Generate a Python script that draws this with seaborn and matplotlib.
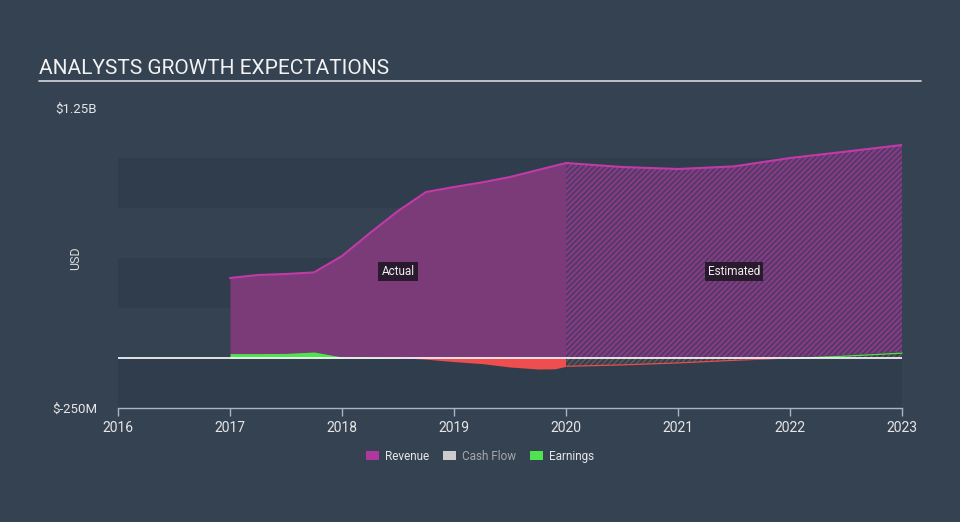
import matplotlib
matplotlib.use("Agg")
import matplotlib.pyplot as plt
from matplotlib.patches import Patch
import seaborn as sns
import numpy as np
import pandas as pd

# ---- data (USD billions) ----
rev_years_act = [2017.0, 2017.25, 2017.5, 2017.75, 2018.0, 2018.25, 2018.5, 2018.75, 2019.0, 2019.25, 2019.5, 2019.75, 2020.0]
rev_vals_act = [0.40, 0.415, 0.42, 0.428, 0.51, 0.625, 0.735, 0.83, 0.855, 0.878, 0.905, 0.94, 0.975]
rev_years_est = [2020.0, 2020.5, 2021.0, 2021.5, 2022.0, 2022.5, 2023.0]
rev_vals_est = [0.975, 0.955, 0.945, 0.958, 1.0, 1.032, 1.065]

earn_years = [2017.0, 2017.25, 2017.5, 2017.75, 2018.0, 2018.25, 2018.5, 2018.75, 2019.0, 2019.25, 2019.5, 2019.75, 2019.9, 2020.0,
              2020.5, 2021.0, 2021.5, 2022.0, 2022.5, 2023.0]
earn_vals = [0.022, 0.022, 0.023, 0.03, 0.005, 0.003, 0.002, -0.006, -0.018, -0.028, -0.045, -0.055, -0.054, -0.042,
             -0.035, -0.025, -0.012, 0.003, 0.015, 0.03]

x_ticks = [2016, 2017, 2018, 2019, 2020, 2021, 2022, 2023]
y_tick_vals = [-0.25, 1.25]
y_tick_labels = ["$-250M", "$1.25B"]
legend_labels = ["Revenue", "Cash Flow", "Earnings"]

BG = "#344252"
BAND = "#2f3d4d"
REV_FILL = "#7b3a78"
REV_LINE = "#c23aa8"
GREEN = "#4fe34f"
RED = "#ee4e4e"

sns.set_theme(style="dark")
plt.rcParams["font.family"] = ["Roboto", "DejaVu Sans"]

fig = plt.figure(figsize=(9.6, 5.22), dpi=100, facecolor=BG)
ax = fig.add_axes([118/960, 1-408/522, (902-118)/960, 300/522])
ax.set_facecolor(BG)
ax.set_xlim(2016, 2023)
ax.set_ylim(-0.25, 1.25)

# background bands
for lo, hi in [(-0.25, 0.0), (0.25, 0.5), (0.75, 1.0)]:
    ax.axhspan(lo, hi, color=BAND, lw=0, zorder=0)

df_act = pd.DataFrame({"year": rev_years_act, "rev": rev_vals_act})
df_est = pd.DataFrame({"year": rev_years_est, "rev": rev_vals_est})

# revenue actual
ax.fill_between(df_act.year, 0, df_act.rev, color=REV_FILL, lw=0, zorder=2)
sns.lineplot(data=df_act, x="year", y="rev", ax=ax, color=REV_LINE, lw=1.5, zorder=3)
# revenue estimated (hatched)
plt.rcParams["hatch.linewidth"] = 1.1
ax.fill_between(df_est.year, 0, df_est.rev, facecolor="#853a85", edgecolor="#4a3b5e",
                hatch="//////", lw=0, zorder=2)
sns.lineplot(data=df_est, x="year", y="rev", ax=ax, color=REV_LINE, lw=1.5, zorder=3)

# earnings
ey = np.array(earn_years); ev = np.array(earn_vals)
act = ey <= 2020.0
est = ey >= 2020.0
for mask, hatch in [(act, None), (est, "//////")]:
    xx, yy = ey[mask], ev[mask]
    if hatch is None:
        ax.fill_between(xx, 0, yy, where=yy >= 0, interpolate=True, color=GREEN, lw=0, zorder=4)
        ax.fill_between(xx, 0, yy, where=yy <= 0, interpolate=True, color=RED, lw=0, zorder=4)
    else:
        ax.fill_between(xx, 0, yy, facecolor="#3a3e48", edgecolor="#5a5a60", hatch=hatch, lw=0, zorder=4)
        pos = np.where(yy >= 0, yy, 0)
        neg = np.where(yy <= 0, yy, 0)
        ax.fill_between(xx, pos - 0.006, pos, where=yy >= 0, interpolate=True, color=GREEN, lw=0, zorder=5)
        ax.fill_between(xx, neg, neg + 0.006, where=yy <= 0, interpolate=True, color=RED, lw=0, zorder=5)

ax.axhline(0, color="#ffffff", lw=1.2, zorder=6)

ax.set_xlabel("")
ax.set_ylabel("USD", color="#dddddd", fontsize=9)
ax.yaxis.set_label_coords((82-118)/784, 0.5)
ax.set_xticks(x_ticks)
ax.set_xticklabels([str(t) for t in x_ticks], color="#e6e6e6", fontsize=10)
ax.set_yticks(y_tick_vals)
ax.set_yticklabels(y_tick_labels, color="#e6e6e6", fontsize=9.5)
ax.tick_params(axis="y", length=0, pad=15)
ax.tick_params(axis="x", length=6, width=1, color="#aab4c0", pad=3, direction="out", bottom=True)
for s in ["top", "right", "left"]:
    ax.spines[s].set_visible(False)
ax.spines["bottom"].set_color("#aab4c0")
ax.spines["bottom"].set_linewidth(1)
ax.grid(False)

# labels
box = dict(boxstyle="square,pad=0.25", facecolor="#2a1a2e", edgecolor="none")
ax.text(2018.5, 0.432, "Actual", color="#eeeeee", fontsize=8.5, ha="center", va="center", bbox=box, zorder=7)
ax.text(2021.5, 0.432, "Estimated", color="#eeeeee", fontsize=8.5, ha="center", va="center", bbox=box, zorder=7)

# title
fig.text(39/960, 1-68/522, "ANALYSTS GROWTH EXPECTATIONS", color="#f2f2f2", fontsize=15, ha="left", va="center")
fig.add_artist(plt.Line2D([39/960, 921/960], [1-81/522, 1-81/522], color="#c8ccd2", lw=1.3))

# legend
handles = [Patch(facecolor="#b0379e", edgecolor="none"),
           Patch(facecolor="#cccccc", edgecolor="none"),
           Patch(facecolor=GREEN, edgecolor="none")]
leg = fig.legend(handles, legend_labels, loc="center", bbox_to_anchor=(480/960, 1-456/522), ncol=3,
                 frameon=False, fontsize=8.5, handlelength=1.1, handleheight=0.9, handletextpad=0.5,
                 columnspacing=1.2)
for t, c in zip(leg.get_texts(), ["#e6e6e6", "#a8a8a8", "#e6e6e6"]):
    t.set_color(c)

fig.savefig("out.png", dpi=100, facecolor=BG)
